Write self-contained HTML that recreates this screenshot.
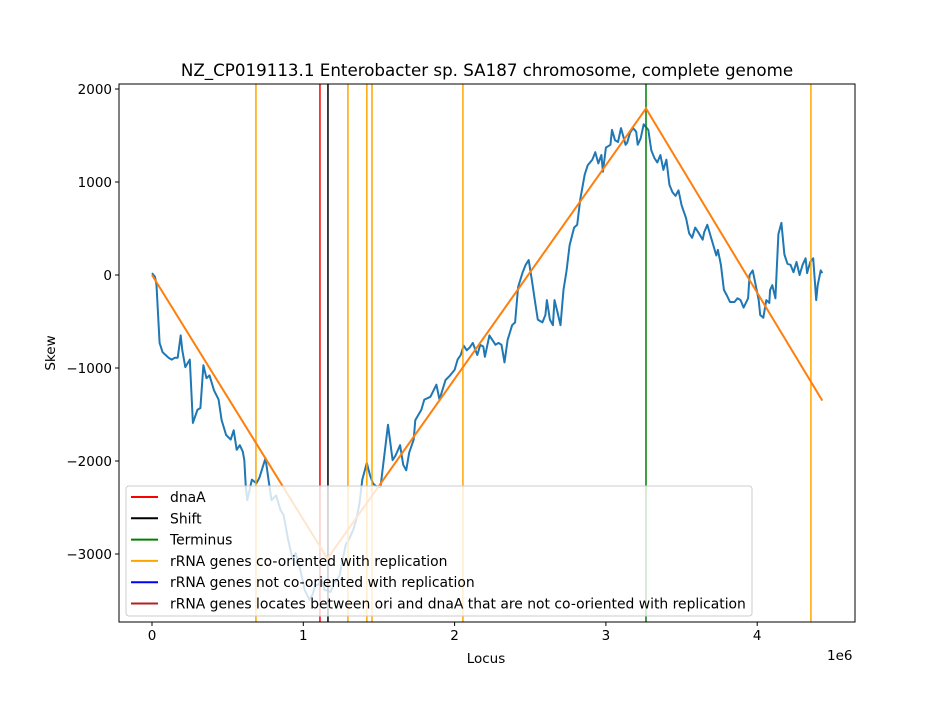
<!DOCTYPE html>
<html><head><meta charset="utf-8"><style>
body{margin:0;background:#fff;font-family:"Liberation Sans","DejaVu Sans",sans-serif}
svg text{font-family:"DejaVu Sans","Liberation Sans",sans-serif}
</style></head><body>
<svg id="chart" width="950" height="700" viewBox="0 0 950 700" xmlns="http://www.w3.org/2000/svg">
<rect width="950" height="700" fill="#fff"/>
<g id="plot"></g>
</svg>
<script>
const locus=[0,.02,.03,.05,.07,.09,.11,.13,.15,.17,.19,.20,.22,.25,.27,.30,.32,.34,.36,.38,.41,.44,.46,.49,.52,.54,.56,.58,.60,.61,.62,.63,.66,.69,.71,.75,.77,.79,.82,.85,.87,.90,.93,.95,.98,1.01,1.04,1.06,1.08,1.10,1.12,1.14,1.16,1.18,1.20,1.22,1.24,1.26,1.28,1.30,1.33,1.35,1.37,1.39,1.42,1.44,1.46,1.48,1.51,1.54,1.56,1.59,1.61,1.64,1.66,1.68,1.70,1.73,1.74,1.78,1.80,1.84,1.88,1.90,1.94,1.97,2.00,2.02,2.04,2.06,2.08,2.10,2.12,2.15,2.17,2.19,2.20,2.23,2.27,2.29,2.31,2.33,2.35,2.38,2.40,2.42,2.45,2.47,2.49,2.51,2.53,2.55,2.58,2.60,2.61,2.63,2.65,2.66,2.68,2.70,2.72,2.74,2.76,2.79,2.81,2.83,2.86,2.88,2.91,2.93,2.95,2.97,2.98,3.00,3.03,3.04,3.06,3.08,3.10,3.13,3.14,3.16,3.18,3.20,3.21,3.23,3.25,3.27,3.28,3.30,3.32,3.34,3.36,3.38,3.40,3.42,3.44,3.46,3.48,3.50,3.53,3.55,3.57,3.59,3.61,3.64,3.65,3.67,3.69,3.71,3.73,3.74,3.76,3.78,3.80,3.82,3.85,3.87,3.89,3.91,3.94,3.95,3.97,3.99,4.01,4.02,4.04,4.06,4.08,4.085,4.10,4.12,4.14,4.16,4.18,4.20,4.22,4.24,4.26,4.28,4.30,4.32,4.33,4.35,4.37,4.39,4.40,4.42,4.43];
const skew=[20,-20,-110,-730,-830,-860,-890,-910,-890,-890,-650,-810,-990,-910,-1590,-1450,-1430,-970,-1110,-1080,-1240,-1340,-1560,-1720,-1770,-1670,-1880,-1830,-1900,-1990,-2280,-2420,-2200,-2240,-2180,-1970,-2200,-2420,-2370,-2530,-2580,-2850,-3060,-2990,-3170,-3390,-3490,-3440,-3330,-3330,-3260,-3390,-3390,-3410,-3330,-3280,-3230,-3060,-2900,-2850,-2740,-2630,-2470,-2200,-2020,-2150,-2240,-2270,-2280,-1880,-1610,-1990,-1940,-1830,-2040,-2100,-1910,-1770,-1560,-1450,-1340,-1310,-1180,-1340,-1130,-1080,-1020,-910,-860,-760,-810,-780,-730,-860,-750,-770,-880,-650,-750,-730,-750,-940,-700,-540,-510,-130,30,110,160,-50,-270,-480,-510,-430,-270,-480,-540,-270,-400,-540,-160,50,320,510,540,810,1080,1180,1240,1320,1200,1290,1110,1370,1400,1560,1450,1430,1580,1400,1420,1530,1580,1540,1400,1470,1620,1580,1560,1340,1260,1210,1290,1130,1240,970,890,850,910,750,610,450,400,510,460,380,460,540,430,320,210,270,110,-160,-220,-290,-290,-250,-270,-350,-250,0,50,-110,-270,-430,-460,-270,-300,-160,-110,-250,440,560,220,120,110,30,140,0,110,180,20,140,180,-270,-110,50,20];
const fitLocus=[0,1.16,3.265,4.43];
const fitSkew=[0,-3050,1790,-1350];
const rrnaCo=[0.687,1.295,1.42,1.454,2.055,4.355];
const dnaA=[1.11];
const shift=[1.163];
const terminus=[3.265];
const xTicks=[0,1,2,3,4];
const yTicks=[-3000,-2000,-1000,0,1000,2000];

const L=119,R=855,T=84,B=622;
const X=v=>152+v*151.3;
const Y=v=>275-v*0.093;
const g=document.getElementById('plot');
const NS='http://www.w3.org/2000/svg';
function mk(t,a,p){const e=document.createElementNS(NS,t);for(const k in a)e.setAttribute(k,a[k]);(p||g).appendChild(e);return e;}

function vlines(arr,color,name){arr.forEach(v=>{
 const e=mk('line',{x1:X(v),x2:X(v),y1:T,y2:B,stroke:color,'stroke-width':1.5});
 
 
});}

let d=locus.map((v,i)=>(i?'L':'M')+X(v).toFixed(1)+' '+Y(skew[i]).toFixed(1)).join(' ');
const sl=mk('path',{d:d,fill:'none',stroke:'#1f77b4','stroke-width':2,'stroke-linejoin':'round'});


vlines(dnaA,'#ff0000','dnaa-line');
vlines(shift,'#000000','shift-line');
vlines(terminus,'#008000','terminus-line');
vlines(rrnaCo,'#ffa500','rrna-co-oriented-line');
d=fitLocus.map((v,i)=>(i?'L':'M')+X(v).toFixed(1)+' '+Y(fitSkew[i]).toFixed(1)).join(' ');
const fl=mk('path',{d:d,fill:'none',stroke:'#ff7f0e','stroke-width':2});



const fr=mk('rect',{x:L,y:T,width:R-L,height:B-T,fill:'none',stroke:'#000','stroke-width':1});



xTicks.forEach(v=>{
 mk('line',{x1:X(v),x2:X(v),y1:B,y2:B+4,stroke:'#000'});
 const t=mk('text',{x:X(v),y:B+18,'text-anchor':'middle','font-size':13.5});
 t.textContent=v;
 
 
});
yTicks.forEach(v=>{
 mk('line',{x1:L-4,x2:L,y1:Y(v),y2:Y(v),stroke:'#000'});
 const t=mk('text',{x:L-7,y:Y(v)+5,'text-anchor':'end','font-size':13.5});
 t.textContent=(v<0?'\u2212'+(-v):v);
 
 
});
function txt(x,y,s,size,name,extra){const t=mk('text',Object.assign({x:x,y:y,'font-size':size},extra||{}));t.textContent=s;return t;}
txt(487,76,'NZ_CP019113.1 Enterobacter sp. SA187 chromosome, complete genome',16.7,'chart-title',{'text-anchor':'middle'});
txt(486,663,'Locus',13.5,'x-axis-title',{'text-anchor':'middle'});
txt(55,353,'Skew',13.5,'y-axis-title',{'text-anchor':'middle',transform:'rotate(-90 55 353)'});
txt(827,660,'1e6',13.5,'x-axis-offset');

const lg=mk('g',{});


mk('rect',{x:126,y:486,width:626,height:130,rx:3,fill:'#fff','fill-opacity':0.8,stroke:'#ccc'},lg);
const legNames=['dnaA','Shift','Terminus','rRNA genes co-oriented with replication','rRNA genes not co-oriented with replication','rRNA genes locates between ori and dnaA that are not co-oriented with replication'];
const legColors=['#ff0000','#000000','#008000','#ffa500','#0000ff','#b22222'];
legNames.forEach((n,i)=>{
 const y=497+i*21.3;
 const e=mk('g',{},lg);
 
 
 mk('line',{x1:131,x2:158,y1:y,y2:y,stroke:legColors[i],'stroke-width':2},e);
 const t=mk('text',{x:170,y:y+5,'font-size':13.9},e);t.textContent=n;
});
</script>
</body></html>
